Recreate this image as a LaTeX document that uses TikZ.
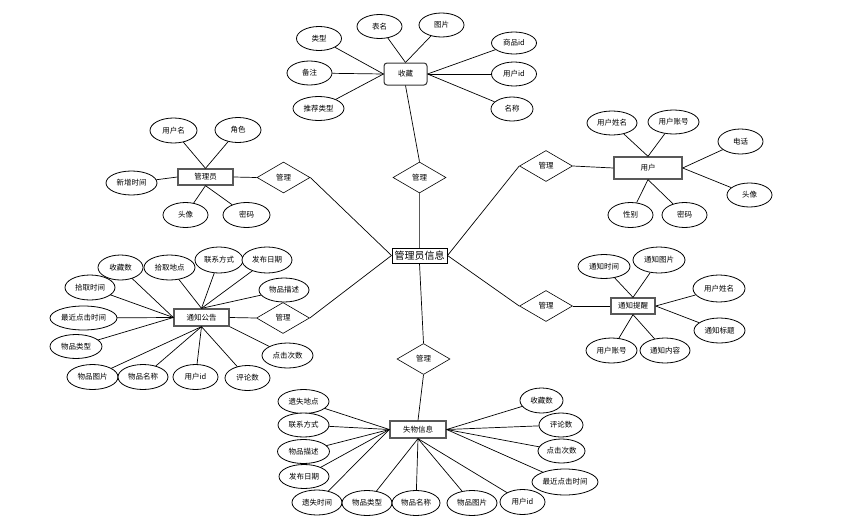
\documentclass[tikz,border=0pt]{standalone}
\usepackage{fontspec}
\newfontfamily\cjk{Noto Sans CJK SC}
\usetikzlibrary{shapes.geometric}
\tikzset{
  attr/.style={ellipse, draw=black, line width=0.8pt, fill=white, inner sep=0pt,
    minimum width=45pt, minimum height=24pt, font=\cjk\fontsize{7.5}{8}\selectfont},
  attrw/.style={attr, minimum width=51pt},
  attrww/.style={attr, minimum width=67pt},
  ent/.style={rectangle, draw=black!65, line width=1.3pt, fill=white, inner sep=0pt,
    minimum height=16pt, font=\cjk\fontsize{7.5}{8}\selectfont},
  rel/.style={diamond, draw=black, line width=0.6pt, fill=white, inner sep=0pt,
    minimum width=53pt, minimum height=31pt, font=\cjk\fontsize{7.5}{8}\selectfont},
  link/.style={draw=black, line width=0.7pt},
  mainlink/.style={draw=black!80, line width=0.8pt}
}
\begin{document}
\begin{tikzpicture}[x=1pt,y=-1pt]
\useasboundingbox (0,0) rectangle (860,525);
% center
\node[ent, minimum width=55pt, minimum height=15pt, line width=1pt, draw=black, font=\cjk\fontsize{10}{12}\selectfont] (c) at (419.5,255.5) {管理员信息};
% relations
\node[rel] (d1) at (419.5,177.5) {管理};
\node[rel] (d2) at (546,166) {管理};
\node[rel] (d3) at (546,306) {管理};
\node[rel] (d4) at (423.5,359) {管理};
\node[rel] (d5) at (283.5,177.5) {管理};
\node[rel] (d6) at (283,318) {管理};
% entities
\node[ent, rounded corners=3pt, minimum width=43pt, minimum height=22pt, line width=1pt, draw=black!80] (s) at (405.5,74) {收藏};
\node[ent, minimum width=55pt] (a) at (205.5,177) {管理员};
\node[ent, minimum width=68pt, minimum height=22pt] (u) at (648,168) {用户};
\node[ent, minimum width=55pt, minimum height=17pt] (n) at (201.5,317.5) {通知公告};
\node[ent, minimum width=44pt] (t) at (633,306) {通知提醒};
\node[ent, minimum width=56pt, minimum height=17pt] (f) at (418,429.5) {失物信息};
% main links
\draw[mainlink, line width=1.2pt, draw=black!65] (c.north) -- (d1.south);
\draw[link] (d1.north) -- (s.south);
\draw[link] (c.east) -- (d2.west);
\draw[link] (d2.east) -- (u.west);
\draw[link] (c.east) -- (d3.west);
\draw[link] (d3.east) -- (t.west);
\draw[link] (c.south) -- (d4.north);
\draw[link] (d4.south) -- (f.north);
\draw[link] (c.west) -- (d5.east);
\draw[link] (d5.west) -- (a.east);
\draw[link] (c.west) -- (d6.east);
\draw[link] (d6.west) -- (n.east);
% 收藏 attributes
\node[attr] (s1) at (319,38.5) {类型};
\node[attr] (s2) at (379.5,26.5) {表名};
\node[attr] (s3) at (441.5,25) {图片};
\node[attr, minimum height=22pt] (s4) at (514,43) {商品id};
\node[attr] (s5) at (309.5,73) {备注};
\node[attr] (s6) at (514,74) {用户id};
\node[attrw] (s7) at (318.5,108.5) {推荐类型};
\node[attr, minimum width=42pt] (s8) at (512,109) {名称};
\foreach \i in {s1,s5,s7} \draw[link] (\i) -- (s.west);
\foreach \i in {s2,s3} \draw[link] (\i) -- (s.north);
\foreach \i in {s4,s6,s8} \draw[link] (\i) -- (s.east);
% 管理员 attributes
\node[attr, minimum width=47pt, minimum height=25pt] (a1) at (173.5,130.5) {用户名};
\node[attr, minimum width=46pt, minimum height=25pt] (a2) at (238,130) {角色};
\node[attrw] (a3) at (131.5,183) {新增时间};
\node[attr, minimum height=25pt] (a4) at (185.5,215) {头像};
\node[attr, minimum width=47pt, minimum height=25pt] (a5) at (246.5,215) {密码};
\foreach \i in {a1,a2} \draw[link] (\i) -- (a.north);
\draw[link] (a3) -- (a.west);
\foreach \i in {a4,a5} \draw[link] (\i) -- (a.south);
% 用户 attributes
\node[attr, minimum width=50pt] (u1) at (612,123) {用户姓名};
\node[attrw] (u2) at (673.5,122) {用户账号};
\node[attr, minimum height=25pt] (u3) at (740.5,141.5) {电话};
\node[attr] (u4) at (749.5,195) {头像};
\node[attr, minimum height=25pt] (u5) at (630.5,215) {性别};
\node[attr, minimum height=25pt] (u6) at (684.5,215) {密码};
\foreach \i in {u1,u2} \draw[link] (\i) -- (u.north);
\foreach \i in {u3,u4} \draw[link] (\i) -- (u.east);
\foreach \i in {u5,u6} \draw[link] (\i) -- (u.south);
% 通知公告 attributes
\draw[link] (120.5,267.5) -- (n.west);
\draw[link] (169.5,267.5) -- (n.north);
\draw[link] (219,260) -- (n.north);
\draw[link] (267,260) -- (n.north);
\draw[link] (284,290) -- (n.north);
\draw[link] (90,287.5) -- (n.west);
\draw[link] (83.5,318) -- (n.west);
\draw[link] (76,346.5) -- (n.west);
\draw[link] (92.5,377) -- (n.south);
\draw[link] (143,377) -- (n.south);
\draw[link] (195.5,377) -- (n.south);
\draw[link] (247.5,378) -- (n.south);
\draw[link] (287.5,355.5) -- (n.south east);
\node[attr, minimum height=25pt] (n1) at (120.5,267.5) {收藏数};
\node[attrw, minimum height=25pt] (n2) at (169.5,267.5) {拾取地点};
\node[attr, minimum width=48pt, minimum height=26pt] (n3) at (219,260) {联系方式};
\node[attr, minimum width=50pt, minimum height=26pt] (n4) at (267,260) {发布日期};
\node[attr, minimum width=50pt, minimum height=25pt] (n5) at (90,287.5) {拾取时间};
\node[attr, minimum width=50pt] (n6) at (284,290) {物品描述};
\node[attrww] (n7) at (83.5,318) {最近点击时间};
\node[attr, minimum width=52pt] (n8) at (76,346.5) {物品类型};
\node[attrw, minimum height=25pt] (n9) at (92.5,377) {物品图片};
\node[attr, minimum width=50pt, minimum height=25pt] (n10) at (143,377) {物品名称};
\node[attr, minimum height=25pt] (n11) at (195.5,377) {用户id};
\node[attr, minimum height=25pt] (n12) at (247.5,378) {评论数};
\node[attrw, minimum height=25pt] (n13) at (287.5,355.5) {点击次数};
% 通知提醒 attributes
\node[attr, minimum width=52pt] (t1) at (604,266.5) {通知时间};
\node[attr, minimum width=52pt, minimum height=26pt] (t2) at (659,260) {通知图片};
\node[attr, minimum width=52pt, minimum height=27pt] (t3) at (719,288.5) {用户姓名};
\node[attrw, minimum height=25pt] (t4) at (719.5,330.5) {通知标题};
\node[attrw, minimum height=25pt] (t5) at (611.5,350.5) {用户账号};
\node[attr, minimum width=50pt, minimum height=25pt] (t6) at (665,350.5) {通知内容};
\foreach \i in {t1,t2} \draw[link] (\i) -- (t.north);
\foreach \i in {t3,t4} \draw[link] (\i) -- (t.east);
\foreach \i in {t5,t6} \draw[link] (\i) -- (t.south);
% 失物信息 attributes
\draw[link] (303.5,401.5) -- (f.west);
\draw[link] (303.5,425) -- (f.west);
\draw[link] (303.5,451.5) -- (f.west);
\draw[link] (304,476.5) -- (f.west);
\draw[link] (317,502.5) -- (f.west);
\draw[link] (367,503) -- (f.south);
\draw[link] (416,503) -- (f.south);
\draw[link] (472,503) -- (f.south);
\draw[link] (522.5,502) -- (f.south);
\draw[link] (541.5,400.5) -- (f.east);
\draw[link] (561,425) -- (f.east);
\draw[link] (561.5,451) -- (f.east);
\draw[link] (565,482) -- (f.east);
\node[attrw] (f1) at (303.5,401.5) {遗失地点};
\node[attrw] (f2) at (303.5,425) {联系方式};
\node[attr, minimum width=52pt] (f3) at (303.5,451.5) {物品描述};
\node[attr, minimum width=50pt] (f4) at (304,476.5) {发布日期};
\node[attr, minimum width=50pt, minimum height=25pt] (f5) at (317,502.5) {遗失时间};
\node[attr, minimum width=50pt, minimum height=25pt] (f6) at (367,503) {物品类型};
\node[attr, minimum width=48pt, minimum height=25pt] (f7) at (416,503) {物品名称};
\node[attr, minimum width=50pt, minimum height=25pt] (f8) at (472,503) {物品图片};
\node[attr, minimum height=25pt] (f9) at (522.5,502) {用户id};
\node[attr, minimum width=43pt, minimum height=25pt] (f10) at (541.5,400.5) {收藏数};
\node[attr, minimum width=44pt] (f11) at (561,425) {评论数};
\node[attr, minimum width=47pt] (f12) at (561.5,451) {点击次数};
\node[attr, minimum width=66pt, minimum height=26pt] (f13) at (565,482) {最近点击时间};
\end{tikzpicture}
\end{document}
